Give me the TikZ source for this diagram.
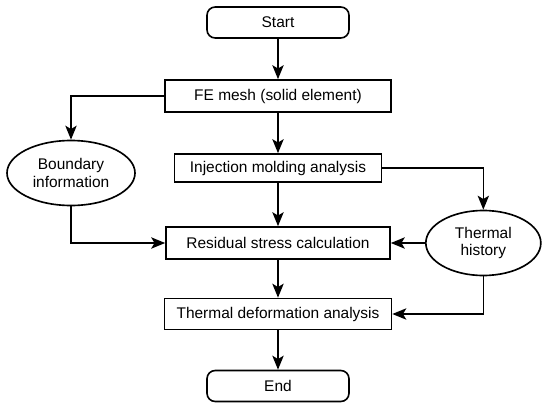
\documentclass[tikz,border=0pt]{standalone}
\usepackage{fontspec}
\setmainfont{Liberation Sans}
\usepackage{tikz}
\usetikzlibrary{arrows.meta,shapes.geometric,positioning}

\tikzset{
	block/.style={rectangle,draw=black,line width=1.4pt,minimum height=.93cm,inner sep=2pt},
	term/.style={block,rounded corners=7pt,minimum width=4.26cm},
	oval/.style={ellipse,draw=black,line width=1.4pt,minimum width=3.6cm,minimum height=1.95cm,align=center,inner sep=1pt},
	flow/.style={line width=1.4pt,-{Stealth[length=.42cm,width=.34cm,inset=.1cm]}}
}

\begin{document}
\begin{tikzpicture}[font=\fontsize{13.2}{15}\selectfont]
		\useasboundingbox (0,0) rectangle (16.41,-12.09);
		% main column
		\node[term] (start) at (8.34,-.675) {Start};
		\node[block,minimum width=6.78cm,minimum height=.96cm] (mesh) at (8.34,-2.88) {FE mesh (solid element)};
		\node[block,minimum width=6.21cm,minimum height=.84cm] (inject) at (8.34,-5.04) {Injection molding analysis};
		\node[block,minimum width=6.72cm,minimum height=.96cm] (resid) at (8.34,-7.29) {Residual stress calculation};
		\node[block,minimum width=6.81cm] (deform) at (8.34,-9.42) {Thermal deformation analysis};
		\node[term] (end) at (8.34,-11.58) {End};

		% side information
		\node[oval,minimum width=3.84cm] (bound) at (2.13,-5.19) {Boundary\\information};
		\node[oval,minimum width=3.45cm] (thermal) at (14.5,-7.29) {Thermal\\history};

		% flow down the middle
		\draw[flow] (start) -- (mesh);
		\draw[flow] (mesh) -- (inject);
		\draw[flow] (inject) -- (resid);
		\draw[flow] (resid) -- (deform);
		\draw[flow] (deform) -- (end);

		% boundary branch
		\draw[flow] (mesh.west) -| (bound.north);
		\draw[flow] (bound.south) |- (resid.west);

		% thermal branch
		\draw[flow] (inject.east) -| (thermal.north);
		\draw[flow] (thermal.west) -- (resid.east);
		\draw[flow] (thermal.south) |- (deform.east);
\end{tikzpicture}
\end{document}
